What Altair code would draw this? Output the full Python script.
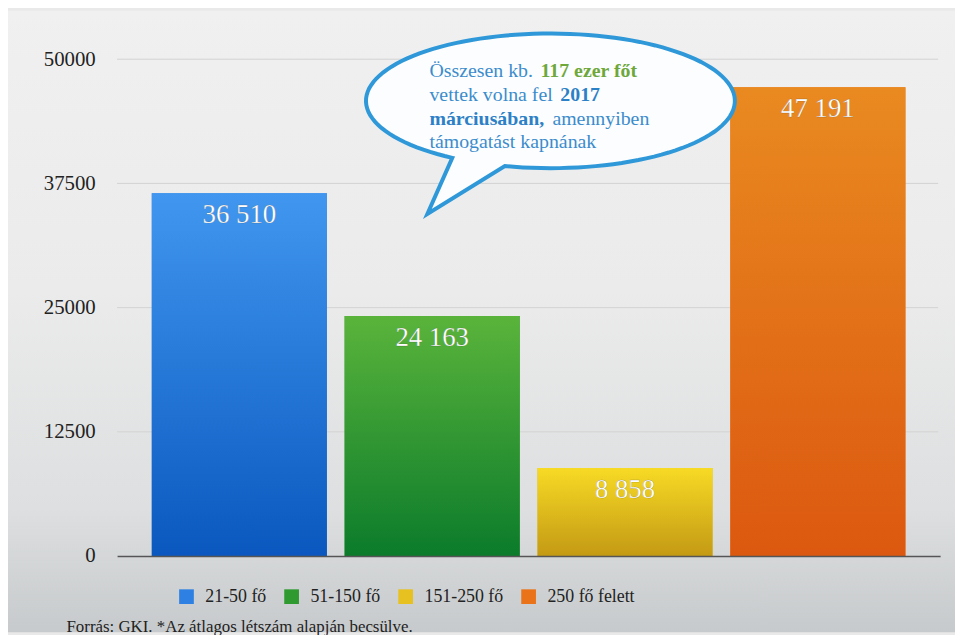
import math
import altair as alt
import pandas as pd

# ---- data ----
categories = ["21-50 fő", "51-150 fő", "151-250 fő", "250 fő felett"]
values = [36510, 24163, 8858, 47191]
y_ticks = [0, 12500, 25000, 37500, 50000]
legend_colors = ["#2f80e3", "#2e9a2f", "#e7c11f", "#ea731a"]
grad_top = ["#4197ef", "#5ab43b", "#f7da25", "#e98a20"]
grad_bottom = ["#0a58bf", "#0b7b2b", "#c49a14", "#dc5810"]
bubble_line1 = ["Összesen kb.", "117 ezer főt"]
bubble_line2 = ["vettek volna fel", "2017"]
bubble_line3 = ["márciusában,", "amennyiben"]
bubble_line4 = ["támogatást kapnának"]
footer = "Forrás: GKI. *Az átlagos létszám alapján becsülve."

df = pd.DataFrame({"cat": categories, "v": values})
grid_df = pd.DataFrame({"v": y_ticks[1:]})

W, H = 830, 501
PAD_L, PAD_T, PAD_R, PAD_B = 110, 49, 15, 77
SERIF = "Liberation Serif"

x = alt.X("cat:N", sort=categories,
          scale=alt.Scale(paddingInner=0.092, paddingOuter=0.18),
          axis=alt.Axis(labels=False, ticks=False, title=None, domain=True,
                        domainColor="#555555", domainWidth=1.5, grid=False,
                        zindex=2))
y = alt.Y("v:Q", scale=alt.Scale(domain=[0, 50000], nice=False),
          axis=alt.Axis(values=y_ticks, format="d", title=None, ticks=False,
                        domain=False, labelFont=SERIF, labelFontSize=21,
                        labelColor="#222222", labelPadding=22, grid=False,
                        zindex=2))

one = alt.Data(values=[{}])

# background gradient over the whole chart
bg = alt.Chart(one).mark_rect(
    color=alt.Gradient(gradient="linear", x1=0, y1=0, x2=0, y2=1, stops=[
        alt.GradientStop(color="#f0f0f0", offset=0),
        alt.GradientStop(color="#ebebeb", offset=0.45),
        alt.GradientStop(color="#dddfe0", offset=0.8),
        alt.GradientStop(color="#c7cacc", offset=1)])
).encode(x=alt.value(-PAD_L), x2=alt.value(W + PAD_R),
         y=alt.value(-PAD_T), y2=alt.value(H + PAD_B))

grid = alt.Chart(grid_df).mark_rule(color="#d2d2d2", strokeWidth=1).encode(
    y=y, x=alt.value(0), x2=alt.value(W - 2))

base = alt.Chart(df)

bars = base.mark_bar().encode(
    x=x, y=y,
    color=alt.Color("cat:N", sort=categories,
                    scale=alt.Scale(domain=categories, range=legend_colors),
                    legend=alt.Legend(orient="none", legendX=61, legendY=533,
                                      direction="horizontal", title=None,
                                      symbolType="square", symbolSize=220,
                                      symbolStrokeWidth=0,
                                      labelFont=SERIF, labelFontSize=18,
                                      labelColor="#222222", columnPadding=16,
                                      labelOffset=10, padding=0)))

grad_layers = []
for c, t, b in zip(categories, grad_top, grad_bottom):
    grad_layers.append(
        base.transform_filter(alt.datum.cat == c).mark_bar(
            color=alt.Gradient(gradient="linear", x1=0, y1=0, x2=0, y2=1, stops=[
                alt.GradientStop(color=t, offset=0),
                alt.GradientStop(color=b, offset=1)])
        ).encode(x=x, y=y))

labels = base.transform_calculate(
    label="replace(format(datum.v, ','), ',', ' ')"
).mark_text(font=SERIF, fontSize=27, fill="white", stroke="#333333",
            strokeWidth=0.35, strokeOpacity=0.45,
            baseline="alphabetic", dy=30).encode(
    x=x, y=y, text="label:N")

# speech bubble shape (unit ellipse with tail)
ry = 0.365
pts = []
t0, t1 = math.acos(-0.532), 2 * math.pi + math.acos(-0.247)
n = 120
for i in range(n + 1):
    t = t0 + (t1 - t0) * i / n
    pts.append((math.cos(t), ry * math.sin(t)))
path = "M " + " L ".join(f"{px:.4f} {py:.4f}" for px, py in pts) + " L -0.667 0.613 Z"
bubble = alt.Chart(one).mark_point(
    shape=path, filled=True, fill="#fcfdfe", stroke="#2f98d8", strokeWidth=4,
    opacity=1, fillOpacity=1, strokeOpacity=1
).encode(x=alt.value(437), y=alt.value(42), size=alt.value((2 * 186) ** 2))

BLUE, BLUE_B, GREEN = "#3b8ccc", "#2c80c6", "#6ea83c"


def btext(txt, px, py, color, bold=False):
    return alt.Chart(one).mark_text(
        text=txt, font=SERIF, fontSize=20, color=color, align="left",
        baseline="alphabetic", fontWeight="bold" if bold else "normal"
    ).encode(x=alt.value(px), y=alt.value(py))


texts = [
    btext(bubble_line1[0], 315, 18, BLUE),
    btext(bubble_line1[1], 427, 18, GREEN, True),
    btext(bubble_line2[0], 315, 42, BLUE),
    btext(bubble_line2[1], 447, 42, BLUE_B, True),
    btext(bubble_line3[0], 315, 66, BLUE_B, True),
    btext(bubble_line3[1], 439, 66, BLUE),
    btext(bubble_line4[0], 315, 90, BLUE),
]

foot = alt.Chart(one).mark_text(
    text=footer, font=SERIF, fontSize=17, color="#222222", align="left",
    baseline="alphabetic"
).encode(x=alt.value(-51), y=alt.value(578))

chart = alt.layer(bg, grid, bars, *grad_layers, labels, bubble, *texts, foot).properties(
    width=W, height=H,
    autosize=alt.AutoSizeParams(type="none"),
    padding={"left": PAD_L, "top": PAD_T, "right": PAD_R, "bottom": PAD_B},
    background="#e9e9e9",
).configure_view(stroke=None)

chart.save("out.html", embed_options={"renderer": "svg", "actions": False})
